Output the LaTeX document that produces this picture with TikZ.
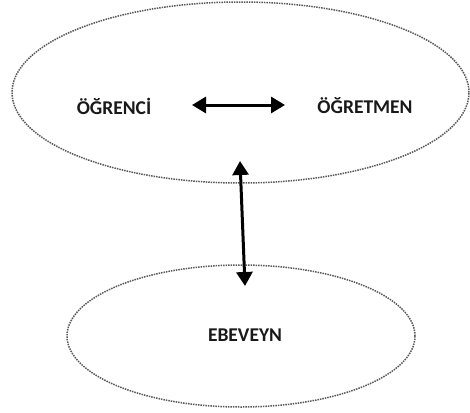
\documentclass[tikz,border=0pt]{standalone}
\usepackage{fontspec}
\setmainfont{Carlito}
\usetikzlibrary{shapes.geometric, arrows.meta, positioning}

\tikzset{
  group/.style={ellipse, draw=black!65, densely dotted, line width=1.5pt, inner sep=0pt},
  role/.style={font=\fontsize{19.5}{22}\selectfont\bfseries, text=black!90, inner sep=0pt},
  link/.style={{Triangle[length=14pt,width=16pt]}-{Triangle[length=14pt,width=16pt]}, line width=3pt}
}

\begin{document}
\begin{tikzpicture}[x=1pt, y=-1pt]
        \useasboundingbox (0,0) rectangle (470,412);
        % School side
        \node[group, minimum width=457pt, minimum height=181pt] (school) at (240.5,92.5) {};
        \node[role] (ogrenci) at (114,106) {ÖĞRENCİ};
        \node[role] (ogretmen) at (365,106) {ÖĞRETMEN};
        % Home side
        \node[group, minimum width=348pt, minimum height=142pt] (home) at (241,336) {};
        \node[role] (ebeveyn) at (245,335) {EBEVEYN};
        % Arrow ends
        \coordinate (sl) at (192,105);
        \coordinate (sr) at (285,105);
        \coordinate (st) at (240,161);
        \coordinate (hb) at (245,286);
        % Links
        \draw[link] (sl) -- (sr);
        \draw[link] (st) -- (hb);
    \end{tikzpicture}
\end{document}
